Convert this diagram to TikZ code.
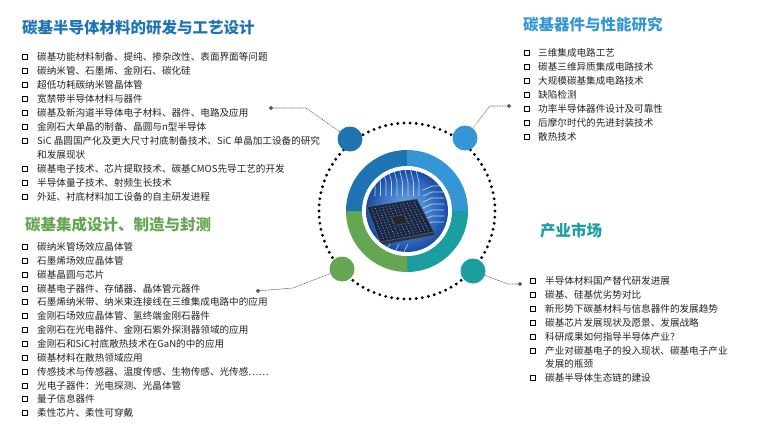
\documentclass[tikz,border=0pt]{standalone}
\usepackage{fontspec}
\setmainfont{Noto Sans CJK SC}
\usetikzlibrary{calc,arrows.meta}
\definecolor{matblue}{RGB}{30,116,178}
\definecolor{devblue}{RGB}{52,150,213}
\definecolor{intgreen}{RGB}{100,166,82}
\definecolor{mktteal}{RGB}{26,158,160}
\definecolor{txtgray}{RGB}{35,35,35}
\definecolor{linkgray}{RGB}{90,90,90}
\definecolor{chipdark}{RGB}{28,38,66}
\definecolor{chipdot}{RGB}{120,170,220}
\definecolor{trace}{RGB}{170,215,255}
\tikzset{
	ttl/.style={anchor=west,inner sep=0pt,font=\bfseries\fontsize{15.5}{16}\selectfont},
	itm/.style={anchor=west,inner sep=0pt,text height=8.4pt,text depth=1.2pt,text=txtgray,font=\fontsize{9.6}{11}\selectfont},
	chk/.style={draw=black,line width=1.3pt,minimum size=5.2pt,inner sep=0pt},
	hub/.style={circle,minimum size=25pt,inner sep=0pt},
	link/.style={densely dotted,linkgray,line width=0.6pt,-{Circle[length=4pt]}},
}
\begin{document}
\begin{tikzpicture}[x=1pt,y=-1pt,line join=round,line cap=round]
	\useasboundingbox (0,0) rectangle (760,437);
	\coordinate (C) at (407,211);
	% dotted orbit
	\foreach \a in {0,4,...,356}
	{
		\fill[black] (C) ++(\a:88) circle (1.6);
	}
	% coloured ring
	\foreach \a/\c in {0/mktteal,90/intgreen,180/matblue,270/devblue}
	{
		\fill[\c] (C) -- ++(\a:61) arc[start angle=\a,end angle=\a+90,radius=61] -- cycle;
	}
	\fill[white] (C) circle (45);
	% chip picture
	\begin{scope}
		\clip (C) circle (41);
		\shade[inner color={rgb,255:red,120;green,185;blue,245},outer color={rgb,255:red,25;green,75;blue,165}] (C) circle (41);
		\foreach \k in {0,...,8}
		{
			\draw[trace,line width=0.7pt] (372+5.5*\k,170) -- ++(3,12) -- ++(0,14);
		}
		\foreach \k in {0,...,6}
		{
			\draw[trace,line width=0.7pt] (423,190+6*\k) -- ++(9,-4) -- ++(12,0);
		}
		\foreach \k in {0,...,4}
		{
			\draw[trace,line width=0.6pt] (372+9*\k,244) -- ++(-4,8);
		}
		\coordinate (chA) at (367,207);
		\coordinate (chB) at (417,199);
		\coordinate (chC) at (434,232);
		\coordinate (chD) at (380,242);
		\fill[black!80] ($(chD)+(0,3)$) -- ($(chC)+(0,3)$) -- (chC) -- (chD) -- cycle;
		\fill[chipdark] (chA) -- (chB) -- (chC) -- (chD) -- cycle;
		\draw[chipdot!60!black,line width=0.6pt] (chA) -- (chB) -- (chC) -- (chD) -- cycle;
		\foreach \u in {0.08,0.15,...,0.93}
		{
			\foreach \v in {0.08,0.15,...,0.93}
			{
				\fill[chipdot] ($($(chA)!\u!(chB)$)!\v!($(chD)!\u!(chC)$)$) circle (0.55);
			}
		}
		\fill[black!85,draw=chipdot!50!black] ($($(chA)!.38!(chB)$)!.38!($(chD)!.38!(chC)$)$) -- ($($(chA)!.62!(chB)$)!.38!($(chD)!.62!(chC)$)$) -- ($($(chA)!.62!(chB)$)!.62!($(chD)!.62!(chC)$)$) -- ($($(chA)!.38!(chB)$)!.62!($(chD)!.38!(chC)$)$) -- cycle;
	\end{scope}
	% small hub circles
	\node[hub,fill=matblue] (cMat) at (350,139){};
	\node[hub,fill=devblue] (cDev) at (465,138){};
	\node[hub,fill=intgreen] (cInt) at (342,269){};
	\node[hub,fill=mktteal] (cMkt) at (473,271){};
	\coordinate (matBend) at (306,108);
	\coordinate (matEnd) at (269,108);
	\coordinate (devBend) at (490,106);
	\coordinate (devEnd) at (511,106);
	\coordinate (intBend) at (293,288);
	\coordinate (intEnd) at (256,291);
	\coordinate (mktBend) at (508,284);
	\coordinate (mktEnd) at (522,284);
	\foreach \x/\y/\z in {cMat/matBend/matEnd,cDev/devBend/devEnd,cInt/intBend/intEnd,cMkt/mktBend/mktEnd}
	{
		\draw[link] (\x) -- (\y) -- (\z);
	}
	% titles
	\node[ttl,text=matblue] (tMat) at (22,27.5){碳基半导体材料的研发与工艺设计};
	\node[ttl,text=devblue] (tDev) at (523,25){碳基器件与性能研究};
	\node[ttl,text=intgreen] (tInt) at (25,225){碳基集成设计、制造与封测};
	\node[ttl,text=mktteal] (tMkt) at (540,231){产业市场};
	% materials list
	\foreach \y/\b/\t [count=\i] in
	{
		57/1/碳基功能材料制备、提纯、掺杂改性、表面界面等问题,
		71/1/碳纳米管、石墨烯、金刚石、碳化硅,
		85/1/超低功耗碳纳米管晶体管,
		99/1/宽禁带半导体材料与器件,
		113/1/碳基及新沟道半导体电子材料、器件、电路及应用,
		127/1/金刚石大单晶的制备、晶圆与n型半导体,
		141/1/SiC 晶圆国产化及更大尺寸衬底制备技术、SiC 单晶加工设备的研究,
		155/0/和发展现状,
		169/1/碳基电子技术、芯片提取技术、碳基CMOS先导工艺的开发,
		183/1/半导体量子技术、射频生长技术,
		197/1/外延、衬底材料加工设备的自主研发进程
	}
	{
		\ifnum\b=1 \node[chk] (matBox\i) at (25,\y){}; \fi
		\node[itm] (matItem\i) at (37,\y){\t};
	}
	% devices list
	\foreach \y/\t [count=\i] in
	{
		53/三维集成电路工艺,
		67/碳基三维异质集成电路技术,
		81/大规模碳基集成电路技术,
		95/缺陷检测,
		109/功率半导体器件设计及可靠性,
		123/后摩尔时代的先进封装技术,
		137/散热技术
	}
	{
		\node[chk] (devBox\i) at (527,\y){};
		\node[itm] (devItem\i) at (538,\y){\t};
	}
	% integration list
	\foreach \y/\t [count=\i] in
	{
		247/碳纳米管场效应晶体管,
		261/石墨烯场效应晶体管,
		275/碳基晶圆与芯片,
		289/碳基电子器件、存储器、晶体管元器件,
		302/石墨烯纳米带、纳米束连接线在三维集成电路中的应用,
		316/金刚石场效应晶体管、氢终端金刚石器件,
		330/金刚石在光电器件、金刚石紫外探测器领域的应用,
		344/金刚石和SiC衬底散热技术在GaN的中的应用,
		358/碳基材料在散热领域应用,
		372/传感技术与传感器、温度传感、生物传感、光传感……,
		386/光电子器件：光电探测、光晶体管,
		399/量子信息器件,
		413/柔性芯片、柔性可穿戴
	}
	{
		\node[chk] (intBox\i) at (25,\y){};
		\node[itm] (intItem\i) at (37,\y){\t};
	}
	% market list
	\foreach \y/\b/\t [count=\i] in
	{
		281/1/半导体材料国产替代研发进展,
		295/1/碳基、硅基优劣势对比,
		309/1/新形势下碳基材料与信息器件的发展趋势,
		323/1/碳基芯片发展现状及愿景、发展战略,
		337/1/科研成果如何指导半导体产业？,
		351/1/产业对碳基电子的投入现状、碳基电子产业,
		364/0/发展的瓶颈,
		378/1/碳基半导体生态链的建设
	}
	{
		\ifnum\b=1 \node[chk] (mktBox\i) at (533,\y){}; \fi
		\node[itm] (mktItem\i) at (545,\y){\t};
	}
\end{tikzpicture}
\end{document}
